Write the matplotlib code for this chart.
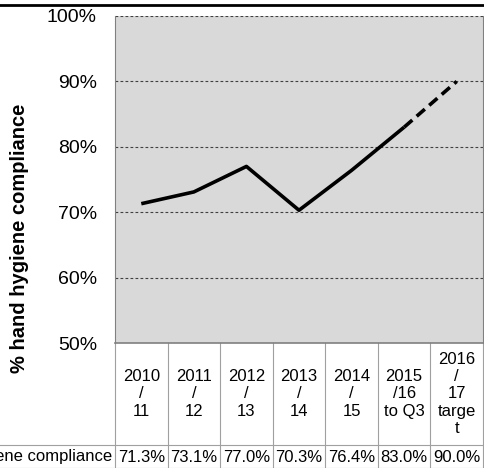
import matplotlib.pyplot as plt
from matplotlib.lines import Line2D
import matplotlib.transforms as mtransforms

# Data
years = ["2010\n/\n11", "2011\n/\n12", "2012\n/\n13", "2013\n/\n14",
         "2014\n/\n15", "2015\n/16\nto Q3", "2016\n/\n17\ntarge\nt"]
compliance = [71.3, 73.1, 77.0, 70.3, 76.4, 83.0, 90.0]
value_labels = ["71.3%", "73.1%", "77.0%", "70.3%", "76.4%", "83.0%", "90.0%"]
row_label = "% hand hygiene compliance"
yticks = [50, 60, 70, 80, 90, 100]

plt.rcParams['font.family'] = ['Liberation Sans', 'DejaVu Sans']

W, H = 484, 468
fig = plt.figure(figsize=(W / 100, H / 100), dpi=100)

# plot area in pixels
left, right, top, bottom = 115, 483, 16, 343
ax = fig.add_axes([left / W, 1 - bottom / H, (right - left) / W, (bottom - top) / H])
ax.set_facecolor('#d9d9d9')

x = list(range(len(compliance)))
n_actual = 6  # last point is the target -> dashed
ax.plot(x[:n_actual], compliance[:n_actual], color='black', lw=2.6,
        solid_capstyle='butt', zorder=3)
ax.plot(x[n_actual - 1:], compliance[n_actual - 1:], color='black', lw=2.6,
        dashes=(3.0, 1.6), zorder=3)

ax.set_xlim(-0.5, len(x) - 0.5)
ax.set_ylim(50, 100)
ax.set_yticks(yticks)
ax.set_yticklabels([f"{v}%" for v in yticks], fontsize=14)
ax.tick_params(axis='y', length=0, pad=13)
ax.set_xticks([])

# dashed gridlines (incl. top edge)
for v in yticks[1:]:
    ax.axhline(v, color='#404040', lw=0.8, dashes=(2.5, 2), zorder=1)

ax.spines['top'].set_visible(False)
ax.spines['left'].set_color('#808080')
ax.spines['right'].set_color('#808080')
ax.spines['bottom'].set_color('#808080')
ax.spines['bottom'].set_linewidth(1.2)

# y label
fig.text(20 / W, 1 - 238 / H, row_label, rotation=90, fontsize=14.5,
         fontweight='bold', ha='center', va='center')

# top black rule
fig.add_artist(Line2D([0, 1], [1 - 5 / H, 1 - 5 / H], color='black', lw=2,
                      transform=fig.transFigure))

# data table below the plot
ph = bottom - top
row_split = -(445 - bottom) / ph
row_end = -(468 - bottom) / ph
trans = mtransforms.blended_transform_factory(ax.transData, ax.transAxes)
grid_c = '#a0a0a0'
for i in range(len(x) + 1):
    ax.plot([i - 0.5, i - 0.5], [0, row_end - 0.05], color=grid_c, lw=0.8,
            transform=trans, clip_on=False)
fig.add_artist(Line2D([0, right / W], [1 - 445 / H, 1 - 445 / H], color=grid_c,
                      lw=0.8, transform=fig.transFigure))
fig.add_artist(Line2D([0, right / W], [1 - 467.5 / H, 1 - 467.5 / H], color=grid_c,
                      lw=0.8, transform=fig.transFigure))

for i, (lab, val) in enumerate(zip(years, value_labels)):
    ax.text(i, -(394 - bottom) / ph, lab, transform=trans, ha='center', va='center',
            fontsize=12, linespacing=1.17)
    ax.text(i, -(457 - bottom) / ph, val, transform=trans, ha='center',
            va='center', fontsize=12)
ax.text(-0.56, -(457 - bottom) / ph, row_label, transform=trans,
        ha='right', va='center', fontsize=12)

fig.savefig('out.png', dpi=100)
